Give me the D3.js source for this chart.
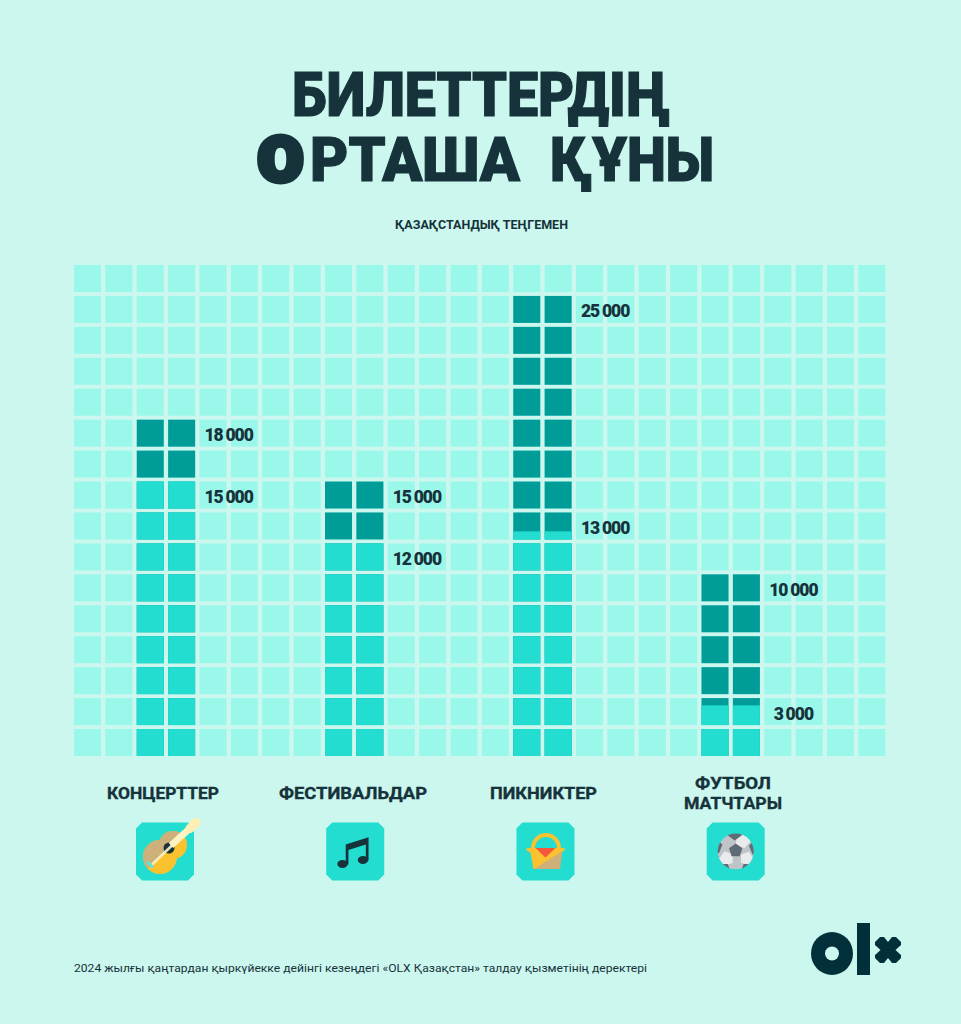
<!DOCTYPE html>
<html>
<head>
<meta charset="utf-8">
<script src="https://d3js.org/d3.v7.min.js"></script>
<style>
  html, body { margin: 0; padding: 0; background: #cbf7ee; }
  svg { display: block; }
  text { fill: #16323a; font-family: Roboto, "Open Sans", sans-serif; }
</style>
</head>
<body>
<script>
// Data
let categories = ["КОНЦЕРТТЕР", "ФЕСТИВАЛЬДАР", "ПИКНИКТЕР", "ФУТБОЛ|МАТЧТАРЫ"];
let lowLabels = ["15 000", "12 000", "13 000", "3 000"];
let highLabels = ["18 000", "15 000", "25 000", "10 000"];
// filled height of each bar, counted in grid cells from the bottom
let lowCells = [9, 7, 7.3, 1.73];
let highCells = [11, 9, 15, 6];
let firstColumn = [2, 8, 14, 20];
let titleTop = "БИЛЕТТЕРДІҢ";
let titleBottom = ["О", "РТАША", " ", "ҚҰНЫ"];
let subtitle = "ҚАЗАҚСТАНДЫҚ ТЕҢГЕМЕН";
let footnote = "2024 жылғы қаңтардан қыркүйекке дейінгі кезеңдегі «OLX Қазақстан» талдау қызметінің деректері";

// Define SVG dimensions
let svgWidth = 961;
let svgHeight = 1024;
let colCount = 26;
let rowCount = 16;

let colors = { cell: "#9af8ea", low: "#22ddd0", high: "#009c98", ink: "#16323a", logo: "#02303a" };

let svg = d3.select("body").append("svg")
  .attr("width", svgWidth)
  .attr("height", svgHeight);

svg.append("rect").attr("width", svgWidth).attr("height", svgHeight).attr("fill", "#cbf7ee");

// Scales for the cell grid, rows counted from the bottom
let x = d3.scaleBand().domain(d3.range(colCount)).range([74, 885.4]).paddingInner(0.139);
let y = d3.scaleBand().domain(d3.range(rowCount)).range([756, 265]).paddingInner(0.128);
let gap = x.step() - x.bandwidth();
// The icons and names sit on their own even spacing, not quite under the bars
let iconX = d3.scalePoint().domain(categories).range([165, 735.7]);

// Background grid
let cells = d3.cross(d3.range(colCount), d3.range(rowCount));
svg.append("g").selectAll("rect")
  .data(cells)
  .join("rect")
  .attr("x", d => x(d[0]))
  .attr("y", d => y(d[1]))
  .attr("width", x.bandwidth())
  .attr("height", y.bandwidth())
  .attr("fill", colors.cell);

// Bars are two columns wide and made of whole or partly filled cells
let barCells = [];
categories.forEach((c, i) => {
  d3.range(Math.ceil(highCells[i])).forEach(row => {
    [0, 1].forEach(k => {
      barCells.push({
        col: firstColumn[i] + k,
        row: row,
        high: Math.min(1, Math.max(0, highCells[i] - row)),
        low: Math.min(1, Math.max(0, lowCells[i] - row))
      });
    });
  });
});

let bars = svg.append("g");
bars.selectAll("rect.high")
  .data(barCells)
  .join("rect")
  .attr("class", "high")
  .attr("x", d => x(d.col))
  .attr("y", d => y(d.row))
  .attr("width", x.bandwidth())
  .attr("height", d => y.bandwidth() * d.high)
  .attr("fill", colors.high);
bars.selectAll("rect.low")
  .data(barCells.filter(d => d.low > 0))
  .join("rect")
  .attr("class", "low")
  .attr("x", d => x(d.col))
  .attr("y", d => y(d.row) + y.bandwidth() * (1 - d.low))
  .attr("width", x.bandwidth())
  .attr("height", d => y.bandwidth() * d.low)
  .attr("fill", colors.low);

// Value labels
function valueLabels(labels, rows) {
  svg.append("g").selectAll("text")
    .data(labels)
    .join("text")
    .attr("x", (d, i) => x(firstColumn[i] + 3) - gap / 2)
    .attr("y", (d, i) => y(Math.ceil(rows[i]) - 1) + y.bandwidth() / 2 + 8)
    .attr("text-anchor", "middle")
    .attr("font-size", 17.5)
    .attr("font-weight", 900)
    .attr("letter-spacing", -0.95)
    .attr("word-spacing", -0.8)
    .attr("fill", "#0f2f38")
    .text(d => d);
}
valueLabels(highLabels, highCells);
valueLabels(lowLabels, lowCells);

// Title block
svg.append("text")
  .attr("x", 292).attr("y", 116)
  .attr("textLength", 378).attr("lengthAdjust", "spacingAndGlyphs")
  .attr("font-size", 62).attr("font-weight", 900)
  .attr("stroke", colors.ink).attr("stroke-width", 1.2)
  .text(titleTop);

let bottomSpots = [
  { x: 258, w: 45, stroke: 6 },
  { x: 310, w: 210, stroke: 1.2 },
  { x: 530, w: 6, stroke: 0 },
  { x: 550, w: 164, stroke: 1.2 }
];
svg.append("text")
  .attr("y", 181)
  .attr("font-size", 62).attr("font-weight", 900)
  .selectAll("tspan")
  .data(titleBottom)
  .join("tspan")
  .attr("x", (d, i) => bottomSpots[i].x)
  .attr("textLength", (d, i) => bottomSpots[i].w)
  .attr("lengthAdjust", "spacingAndGlyphs")
  .attr("stroke", colors.ink)
  .attr("stroke-width", (d, i) => bottomSpots[i].stroke)
  .text(d => d);

svg.append("text")
  .attr("x", 395).attr("y", 229)
  .attr("textLength", 173).attr("lengthAdjust", "spacingAndGlyphs")
  .attr("font-size", 13).attr("font-weight", 700)
  .text(subtitle);

// Category names, one or two lines above their icon
let nameWidths = [[112], [148], [107], [76, 98]];
let nameCentre = [163, 353, 543.5, 733];
let names = svg.append("g").selectAll("g")
  .data(categories)
  .join("g")
  .attr("transform", (d, i) => `translate(${nameCentre[i]},0)`);
names.selectAll("text")
  .data((d, i) => d.split("|").map((t, k, all) => ({ t, w: nameWidths[i][k], y: all.length > 1 ? 788.5 + k * 20 : 799 })))
  .join("text")
  .attr("y", d => d.y)
  .attr("text-anchor", "middle")
  .attr("textLength", d => d.w)
  .attr("lengthAdjust", "spacingAndGlyphs")
  .attr("font-size", 17)
  .attr("font-family", "'Noto Sans', sans-serif")
  .attr("font-weight", 700)
  .attr("stroke", colors.ink)
  .attr("stroke-width", 0.35)
  .text(d => d.t);

// Icon tiles
let tile = d3.line()([[-23, -29], [23, -29], [29, -23], [29, 23], [23, 29], [-23, 29], [-29, 23], [-29, -23]]) + "Z";
let icons = svg.append("g").selectAll("g")
  .data(categories)
  .join("g")
  .attr("transform", d => `translate(${iconX(d)},851.5)`);
icons.append("path").attr("d", tile).attr("fill", colors.low);

// Guitar
let guitar = d3.select(icons.nodes()[0]);
let defs = svg.append("defs");
defs.append("clipPath").attr("id", "guitarTop")
  .append("polygon").attr("points", "-30,30 36,-36 -30,-36");
let body = guitar.append("g");
body.append("circle").attr("cx", -5).attr("cy", 5.5).attr("r", 17).attr("fill", "#fbc230");
body.append("circle").attr("cx", 8).attr("cy", -6.5).attr("r", 14).attr("fill", "#fbc230");
let bodyTop = guitar.append("g").attr("clip-path", "url(#guitarTop)");
bodyTop.append("circle").attr("cx", -5).attr("cy", 5.5).attr("r", 17).attr("fill", "#cdb07a");
bodyTop.append("circle").attr("cx", 8).attr("cy", -6.5).attr("r", 14).attr("fill", "#cdb07a");
guitar.append("circle").attr("cx", 4).attr("cy", -3.5).attr("r", 5.5).attr("fill", colors.ink);
guitar.append("line").attr("x1", -13).attr("y1", 13).attr("x2", 29).attr("y2", -27)
  .attr("stroke", "#fff3c4").attr("stroke-width", 2.6).attr("opacity", 0.9);
guitar.append("line").attr("x1", 6).attr("y1", -6).attr("x2", 28).attr("y2", -26)
  .attr("stroke", "#fff3c4").attr("stroke-width", 6.5);
guitar.append("line").attr("x1", 25).attr("y1", -23).attr("x2", 31).attr("y2", -29)
  .attr("stroke", "#fdf0b4").attr("stroke-width", 9).attr("stroke-linecap", "round");
guitar.append("line").attr("x1", -18).attr("y1", 10).attr("x2", -12).attr("y2", 16)
  .attr("stroke", "#5fe3e0").attr("stroke-width", 3);

// Notes
let note = d3.select(icons.nodes()[1]);
note.append("path").attr("fill", colors.ink)
  .attr("d", "M-9.5,-7 L13.3,-14.2 L13.3,9 L10.6,9 L10.6,-7 L-6.8,-1.5 L-6.8,13 L-9.5,13 Z");
note.append("ellipse").attr("cx", -12.7).attr("cy", 12.5).attr("rx", 5.2).attr("ry", 4).attr("fill", colors.ink);
note.append("ellipse").attr("cx", 7.7).attr("cy", 8.5).attr("rx", 5.2).attr("ry", 4).attr("fill", colors.ink);

// Basket
let basket = d3.select(icons.nodes()[2]);
basket.append("circle").attr("cx", 0.5).attr("cy", -3.5).attr("r", 13)
  .attr("fill", "none").attr("stroke", "#fbc230").attr("stroke-width", 4);
basket.append("path").attr("fill", "#22ddd0").attr("d", "M-20,-1 L20,-1 L20,20 L-20,20 Z");
basket.append("path").attr("fill", "#fbc230")
  .attr("d", "M-19,-1 Q-20,-3.5 -17,-3.5 L18,-3.5 Q20,-3.5 19,-1 L15,1 L13,17.5 L-12,17.5 L-15,1 Z");
basket.append("path").attr("fill", "#cdb07a").attr("d", "M17,-0.5 L14.5,17.5 L-11.5,17.5 Z");
basket.append("path").attr("fill", "#f4573a").attr("d", "M-10,-3.5 L10,-3.5 L0,6 Z");

// Ball
let ball = d3.select(icons.nodes()[3]);
defs.append("clipPath").attr("id", "ballEdge").append("circle").attr("r", 18);
let pentagon = (cx, cy, r, turn) => d3.line()(d3.range(5).map(k => {
  let a = turn + k * 2 * Math.PI / 5 - Math.PI / 2;
  return [cx + r * Math.cos(a), cy + r * Math.sin(a)];
})) + "Z";
let ballG = ball.append("g").attr("clip-path", "url(#ballEdge)");
ballG.append("circle").attr("r", 18).attr("fill", "#bfc4c9");
[[7, -11, 8, 0.4], [-9, 7, 7.5, -0.3], [11, 7, 7, 0.3]].forEach(p => {
  ballG.append("path").attr("d", pentagon(p[0], p[1], p[2], p[3])).attr("fill", "#e9ebed");
});
[[0, -1, 7, 0], [-1, -20, 9, 3.14], [21, -4, 8, 1.2], [-21, -5, 8, -1.2], [-13, 20, 9, 0.6], [13, 20, 9, -0.6]].forEach(p => {
  ballG.append("path").attr("d", pentagon(p[0], p[1], p[2], p[3])).attr("fill", "#5f6b75");
});

// Footnote
svg.append("text")
  .attr("x", 74).attr("y", 972)
  .attr("textLength", 573).attr("lengthAdjust", "spacingAndGlyphs")
  .attr("font-size", 11.5).attr("font-weight", 400)
  .text(footnote);

// OLX logo
let logo = svg.append("g").attr("fill", colors.logo);
logo.append("ellipse").attr("cx", 832).attr("cy", 953.5).attr("rx", 21).attr("ry", 21.5);
logo.append("circle").attr("cx", 832).attr("cy", 953.5).attr("r", 7).attr("fill", "#cbf7ee");
logo.append("rect").attr("x", 857).attr("y", 923).attr("width", 13).attr("height", 52);
logo.append("path")
  .attr("d", "M875,942 L880,937 L884,937 L888,942 L892,937 L896,937 L901,942 L901,945 L895.5,950 L901,955 L901,958 L896,963 L892,963 L888,958 L884,963 L880,963 L875,958 L875,955 L880.5,950 L875,945 Z");
</script>
</body>
</html>
